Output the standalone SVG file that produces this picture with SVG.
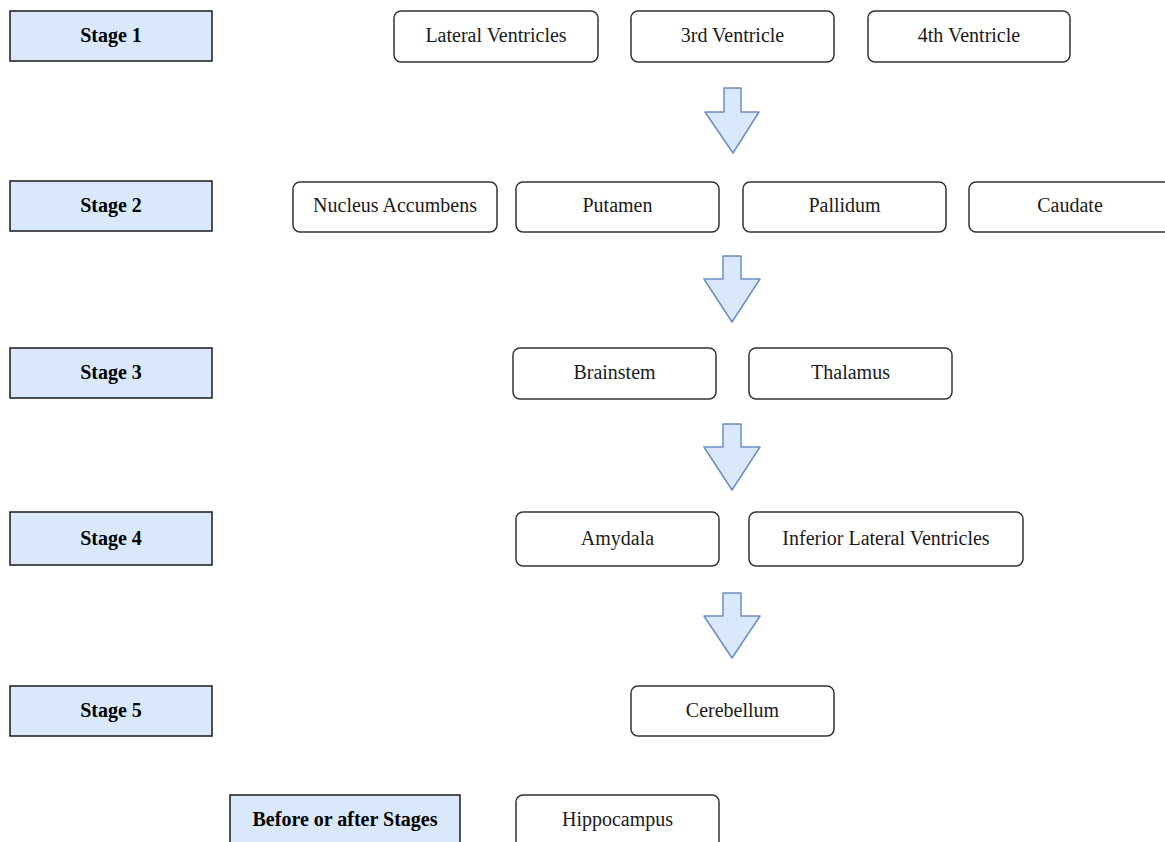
<svg xmlns="http://www.w3.org/2000/svg" width="1165" height="842" viewBox="0 0 1165 842">
<style>
.stage{fill:#dae8fc;stroke:#1a1a1a;stroke-width:1.5}
.node{fill:#ffffff;stroke:#333333;stroke-width:1.5}
.st{font-family:"Liberation Serif","Times New Roman",serif;font-size:20px;font-weight:bold;fill:#000;text-anchor:middle;dominant-baseline:central}
.nt{font-family:"Liberation Serif","Times New Roman",serif;font-size:20px;fill:#1a1a1a;text-anchor:middle;dominant-baseline:central}
.arr{fill:#dae8fc;stroke:#6c8ebf;stroke-width:1.5;stroke-linejoin:round}
</style>
<rect width="1165" height="842" fill="#ffffff"/>
<g id="stage1"><rect class="stage" x="10" y="11" width="202" height="50"/><text class="st" x="111" y="35">Stage 1</text></g>
<g id="stage2"><rect class="stage" x="10" y="181" width="202" height="50"/><text class="st" x="111" y="205">Stage 2</text></g>
<g id="stage3"><rect class="stage" x="10" y="348" width="202" height="50"/><text class="st" x="111" y="372">Stage 3</text></g>
<g id="stage4"><rect class="stage" x="10" y="512" width="202" height="53"/><text class="st" x="111" y="537.5">Stage 4</text></g>
<g id="stage5"><rect class="stage" x="10" y="686" width="202" height="50"/><text class="st" x="111" y="710">Stage 5</text></g>
<g id="beforeafter"><rect class="stage" x="230" y="795" width="230" height="60"/><text class="st" x="345" y="819">Before or after Stages</text></g>

<g id="lateral-ventricles"><rect class="node" x="394" y="11" width="204" height="51" rx="7"/><text class="nt" x="496" y="35">Lateral Ventricles</text></g>
<g id="third-ventricle"><rect class="node" x="631" y="11" width="203" height="51" rx="7"/><text class="nt" x="732.5" y="35">3rd Ventricle</text></g>
<g id="fourth-ventricle"><rect class="node" x="868" y="11" width="202" height="51" rx="7"/><text class="nt" x="969" y="35">4th Ventricle</text></g>

<g id="nucleus-accumbens"><rect class="node" x="293" y="182" width="204" height="50" rx="7"/><text class="nt" x="395" y="205">Nucleus Accumbens</text></g>
<g id="putamen"><rect class="node" x="516" y="182" width="203" height="50" rx="7"/><text class="nt" x="617.5" y="205">Putamen</text></g>
<g id="pallidum"><rect class="node" x="743" y="182" width="203" height="50" rx="7"/><text class="nt" x="844.5" y="205">Pallidum</text></g>
<g id="caudate"><rect class="node" x="969" y="182" width="203" height="50" rx="7"/><text class="nt" x="1070" y="205">Caudate</text></g>

<g id="brainstem"><rect class="node" x="513" y="348" width="203" height="51" rx="7"/><text class="nt" x="614.5" y="372">Brainstem</text></g>
<g id="thalamus"><rect class="node" x="749" y="348" width="203" height="51" rx="7"/><text class="nt" x="850.5" y="372">Thalamus</text></g>

<g id="amydala"><rect class="node" x="516" y="512" width="203" height="54" rx="7"/><text class="nt" x="617.5" y="537.5">Amydala</text></g>
<g id="inferior-lateral-ventricles"><rect class="node" x="749" y="512" width="274" height="54" rx="7"/><text class="nt" x="886" y="537.5">Inferior Lateral Ventricles</text></g>

<g id="cerebellum"><rect class="node" x="631" y="686" width="203" height="50" rx="7"/><text class="nt" x="732.5" y="710">Cerebellum</text></g>

<g id="hippocampus"><rect class="node" x="516" y="795" width="203" height="60" rx="7"/><text class="nt" x="617.5" y="819">Hippocampus</text></g>

<g id="connectors">
<path class="arr" d="M724,88 L741,88 L741,112 L759,112 L733,153 L705,112 L724,112 Z"/>
<path class="arr" d="M723,256 L741,256 L741,279 L760,279 L732,322 L704,279 L723,279 Z"/>
<path class="arr" d="M723,424 L741,424 L741,447 L760,447 L732,490 L704,447 L723,447 Z"/>
<path class="arr" d="M723,593 L741,593 L741,616 L760,616 L732,658 L704,616 L723,616 Z"/>
</g>
</svg>
